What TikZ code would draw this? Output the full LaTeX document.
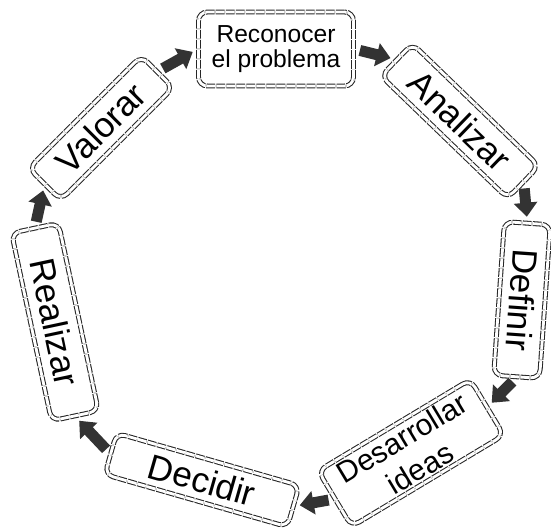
\documentclass[tikz,border=0pt]{standalone}
\usepackage{fontspec}
\setmainfont{Liberation Sans}
\usetikzlibrary{arrows.meta}
\begin{document}
\begin{tikzpicture}[x=0.02cm, y=-0.02cm,
  stage/.style={draw=black!85, double=white, double distance=1.6pt, line width=0.6pt, dash pattern=on 5pt off 0.7pt, rounded corners=5pt, inner sep=0pt, align=center, font=\fontsize{20}{24}\selectfont},
  flow/.style={draw=black!80, solid, line width=0.22cm, -{Triangle[length=0.28cm, width=0.46cm]}, shorten <=0.12cm, shorten >=0.12cm}]
\useasboundingbox (0,0) rectangle (551,530);
\node[stage, minimum width=3.1cm, minimum height=1.48cm, font=\fontsize{14}{14.5}\selectfont] (recon) at (276,49) {Reconocer\\el problema};
\node[stage, minimum width=3.52cm, minimum height=0.9cm, rotate=-44] (anal) at (460,121) {Analizar};
\node[stage, minimum width=3.08cm, minimum height=0.92cm, rotate=-94] (defin) at (522,300) {Definir};
\node[stage, minimum width=3.55cm, minimum height=1.3cm, rotate=31, font=\fontsize{17}{20}\selectfont] (desar) at (411,453) {Desarrollar\\ideas};
\node[stage, minimum width=3.8cm, minimum height=0.86cm, rotate=-16] (decid) at (202,480) {Decidir};
\node[stage, minimum width=3.84cm, minimum height=0.96cm, rotate=-78] (realiz) at (55,322) {Realizar};
\node[stage, minimum width=3.18cm, minimum height=0.9cm, rotate=45] (valor) at (101,128) {Valorar};
\draw[flow] (recon.east) -- (anal.west);
\draw[flow] (anal.east) -- (defin.west);
\draw[flow] (defin.east) -- (desar.east);
\draw[flow] (desar.west) -- (decid.east);
\draw[flow] (decid.west) -- (realiz.east);
\draw[flow] (realiz.west) -- (valor.west);
\draw[flow] (valor.east) -- (recon.west);
\end{tikzpicture}
\end{document}
